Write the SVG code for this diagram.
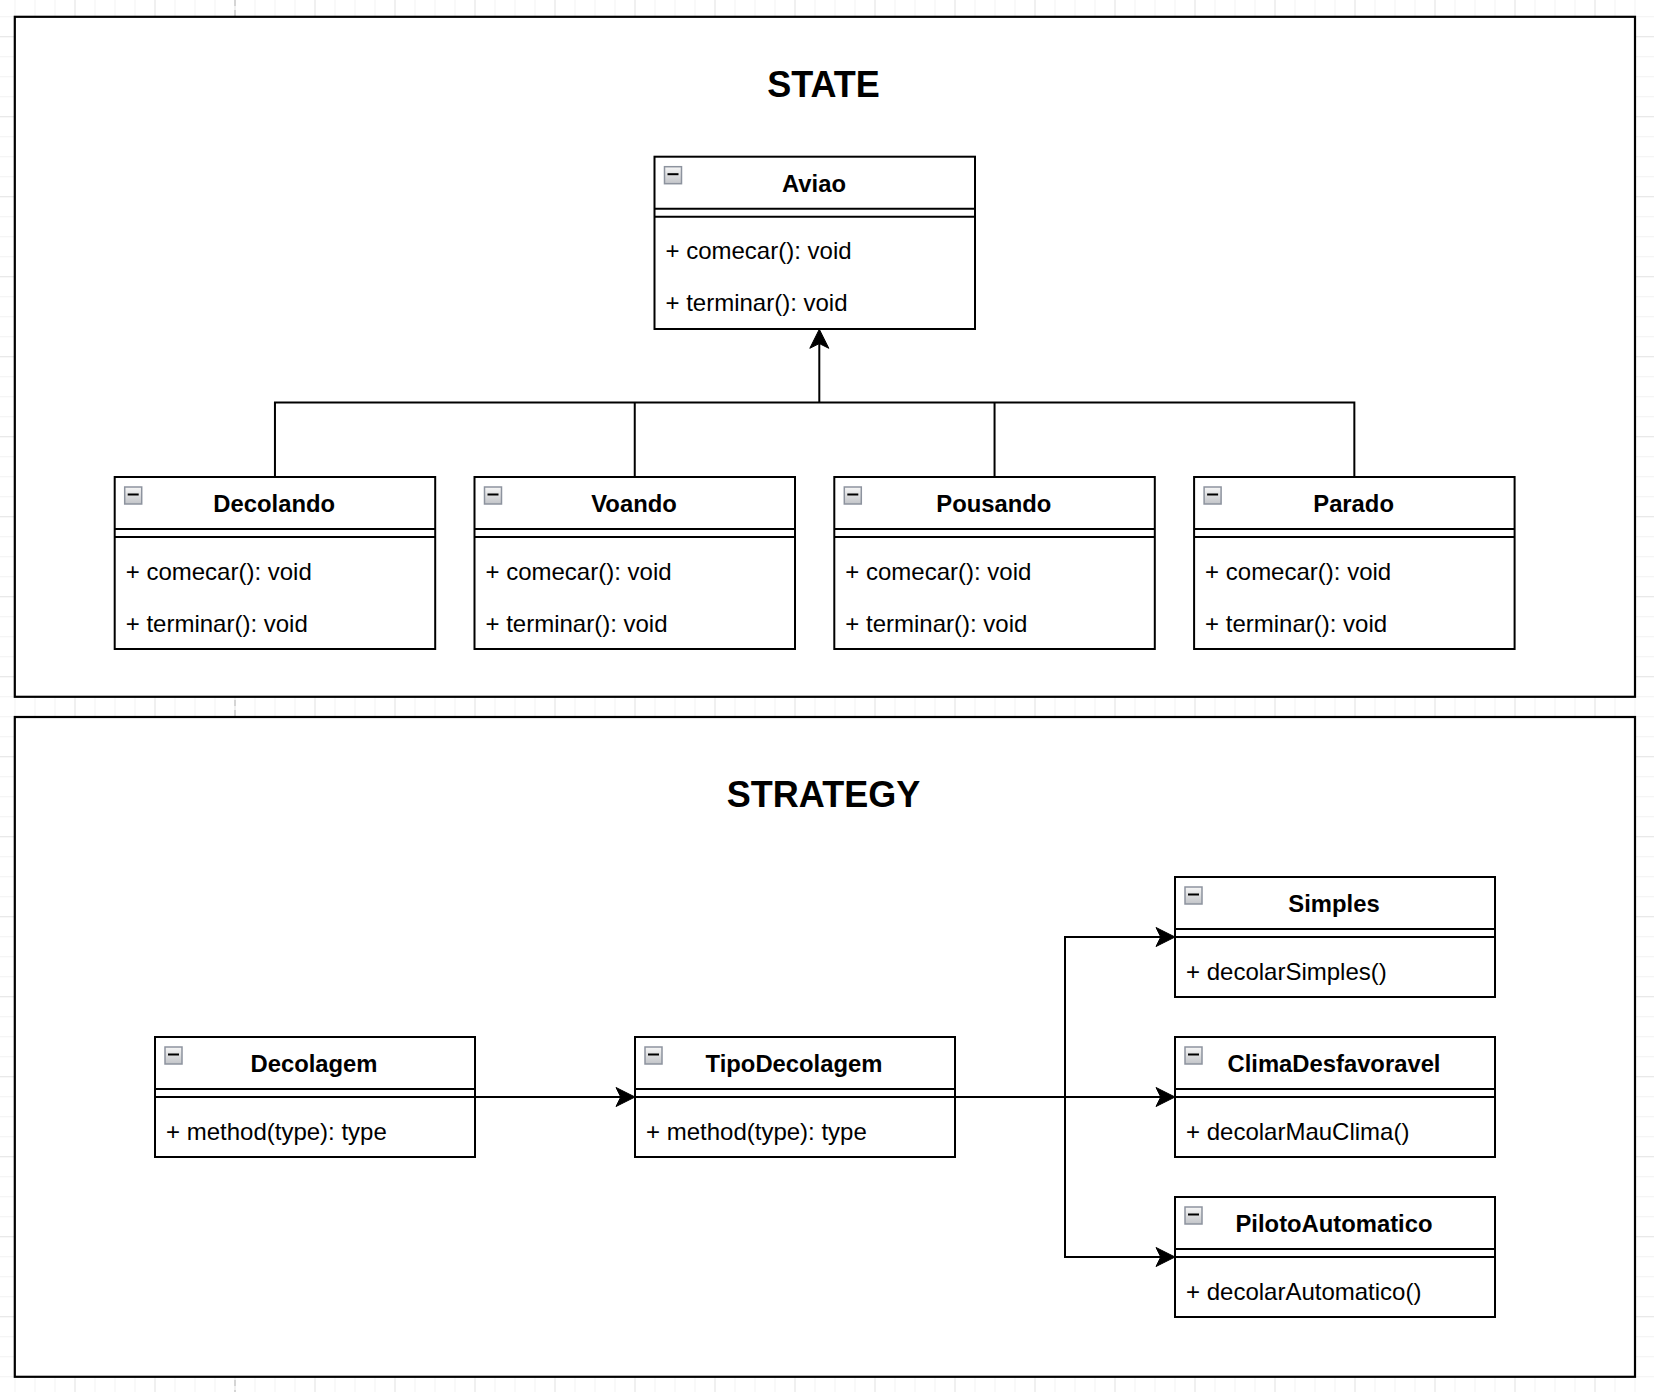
<svg xmlns="http://www.w3.org/2000/svg" xmlns:xlink="http://www.w3.org/1999/xlink" width="1654" height="1392" viewBox="0 0 1654 1392">
<style>
.frame{fill:#ffffff;stroke:#000000;stroke-width:2.2}
.box{fill:#ffffff;stroke:#000000;stroke-width:2}
.sep{stroke:#000000;stroke-width:2}
.title{font-family:"Liberation Sans",Arial,Helvetica,sans-serif;font-weight:bold;font-size:23.8px;text-anchor:middle;fill:#000}
.attr{font-family:"Liberation Sans",Arial,Helvetica,sans-serif;font-size:24px;fill:#000}
.big{font-family:"Liberation Sans",Arial,Helvetica,sans-serif;font-weight:bold;font-size:36px;text-anchor:middle;fill:#000}
.edge{fill:none;stroke:#000000;stroke-width:2;stroke-linejoin:miter}
</style>
<defs>
<pattern id="gridMinor" patternUnits="userSpaceOnUse" x="14.5" y="16.2" width="20" height="20">
<rect x="0" y="0" width="20" height="1" fill="#f2f2f2"/>
<rect x="0" y="0" width="1" height="20" fill="#f2f2f2"/>
</pattern>
<pattern id="gridMajor" patternUnits="userSpaceOnUse" x="74.5" y="36.2" width="80" height="80">
<rect x="0" y="0" width="80" height="1" fill="#e6e6e6"/>
<rect x="0" y="0" width="1" height="80" fill="#e6e6e6"/>
</pattern>
<linearGradient id="iconGrad" x1="0" y1="0" x2="0" y2="1">
<stop offset="0" stop-color="#f7f7f7"/>
<stop offset="1" stop-color="#c2c4c8"/>
</linearGradient>
<g id="minus">
<rect x="10" y="10" width="17" height="17" fill="url(#iconGrad)" stroke="#8d939e" stroke-width="1.5"/>
<rect x="13" y="16.5" width="11" height="2" fill="#000"/>
</g>
<marker id="arrow" markerUnits="userSpaceOnUse" markerWidth="40" markerHeight="40" refX="0" refY="0" orient="auto" overflow="visible">
<path d="M10,0 L-9,-9.5 L-4.25,0 L-9,9.5 Z" fill="#000" stroke="#000" stroke-width="1"/>
</marker>
</defs>

<g id="background">
<rect x="0" y="0" width="1654" height="1392" fill="#ffffff"/>
<rect x="0" y="0" width="1654" height="1392" fill="url(#gridMinor)"/>
<rect x="0" y="0" width="1654" height="1392" fill="url(#gridMajor)"/>
<line x1="235" y1="0" x2="235" y2="1392" stroke="#c4c4c4" stroke-width="1.2" stroke-dasharray="6 4"/>
</g>

<g id="state-frame">
<rect class="frame" x="14.8" y="16.8" width="1620.2" height="680"/>
<text class="big" x="823.5" y="97">STATE</text>
</g>

<g id="strategy-frame">
<rect class="frame" x="14.8" y="717" width="1620.2" height="659.8"/>
<text class="big" x="823.5" y="807">STRATEGY</text>
</g>

<g id="connectors">
<path class="edge" d="M274.95,477 V402.5 H1354.35 V477"/>
<path class="edge" d="M634.75,477 V402.5"/>
<path class="edge" d="M994.55,477 V402.5"/>
<path class="edge" d="M819.3,402.5 V339.3" marker-end="url(#arrow)"/>
<path class="edge" d="M475,1097 H625" marker-end="url(#arrow)"/>
<path class="edge" d="M955,1097 H1165" marker-end="url(#arrow)"/>
<path class="edge" d="M1065,1097 V937 H1165" marker-end="url(#arrow)"/>
<path class="edge" d="M1065,1097 V1257 H1165" marker-end="url(#arrow)"/>
</g>

<g id="aviao" transform="translate(654.5,156.7)">
<rect class="box" width="320.5" height="172.3"/>
<line class="sep" x1="0" y1="52" x2="320.5" y2="52"/>
<line class="sep" x1="0" y1="60" x2="320.5" y2="60"/>
<use xlink:href="#minus" href="#minus"/>
<text class="title" x="159.5" y="35">Aviao</text>
<text class="attr" x="11" y="102.5">+ comecar(): void</text>
<text class="attr" x="11" y="154.5">+ terminar(): void</text>
</g>

<g id="decolando" transform="translate(114.7,477)">
<rect class="box" width="320.5" height="172"/>
<line class="sep" x1="0" y1="52" x2="320.5" y2="52"/>
<line class="sep" x1="0" y1="60" x2="320.5" y2="60"/>
<use xlink:href="#minus" href="#minus"/>
<text class="title" x="159.5" y="35">Decolando</text>
<text class="attr" x="11" y="102.5">+ comecar(): void</text>
<text class="attr" x="11" y="154.5">+ terminar(): void</text>
</g>

<g id="voando" transform="translate(474.5,477)">
<rect class="box" width="320.5" height="172"/>
<line class="sep" x1="0" y1="52" x2="320.5" y2="52"/>
<line class="sep" x1="0" y1="60" x2="320.5" y2="60"/>
<use xlink:href="#minus" href="#minus"/>
<text class="title" x="159.5" y="35">Voando</text>
<text class="attr" x="11" y="102.5">+ comecar(): void</text>
<text class="attr" x="11" y="154.5">+ terminar(): void</text>
</g>

<g id="pousando" transform="translate(834.3,477)">
<rect class="box" width="320.5" height="172"/>
<line class="sep" x1="0" y1="52" x2="320.5" y2="52"/>
<line class="sep" x1="0" y1="60" x2="320.5" y2="60"/>
<use xlink:href="#minus" href="#minus"/>
<text class="title" x="159.5" y="35">Pousando</text>
<text class="attr" x="11" y="102.5">+ comecar(): void</text>
<text class="attr" x="11" y="154.5">+ terminar(): void</text>
</g>

<g id="parado" transform="translate(1194.1,477)">
<rect class="box" width="320.5" height="172"/>
<line class="sep" x1="0" y1="52" x2="320.5" y2="52"/>
<line class="sep" x1="0" y1="60" x2="320.5" y2="60"/>
<use xlink:href="#minus" href="#minus"/>
<text class="title" x="159.5" y="35">Parado</text>
<text class="attr" x="11" y="102.5">+ comecar(): void</text>
<text class="attr" x="11" y="154.5">+ terminar(): void</text>
</g>

<g id="decolagem" transform="translate(155,1037)">
<rect class="box" width="320" height="120"/>
<line class="sep" x1="0" y1="52" x2="320" y2="52"/>
<line class="sep" x1="0" y1="60" x2="320" y2="60"/>
<use xlink:href="#minus" href="#minus"/>
<text class="title" x="159" y="35">Decolagem</text>
<text class="attr" x="11" y="102.5">+ method(type): type</text>
</g>

<g id="tipodecolagem" transform="translate(635,1037)">
<rect class="box" width="320" height="120"/>
<line class="sep" x1="0" y1="52" x2="320" y2="52"/>
<line class="sep" x1="0" y1="60" x2="320" y2="60"/>
<use xlink:href="#minus" href="#minus"/>
<text class="title" x="159" y="35">TipoDecolagem</text>
<text class="attr" x="11" y="102.5">+ method(type): type</text>
</g>

<g id="simples" transform="translate(1175,877)">
<rect class="box" width="320" height="120"/>
<line class="sep" x1="0" y1="52" x2="320" y2="52"/>
<line class="sep" x1="0" y1="60" x2="320" y2="60"/>
<use xlink:href="#minus" href="#minus"/>
<text class="title" x="159" y="35">Simples</text>
<text class="attr" x="11" y="102.5">+ decolarSimples()</text>
</g>

<g id="climadesfavoravel" transform="translate(1175,1037)">
<rect class="box" width="320" height="120"/>
<line class="sep" x1="0" y1="52" x2="320" y2="52"/>
<line class="sep" x1="0" y1="60" x2="320" y2="60"/>
<use xlink:href="#minus" href="#minus"/>
<text class="title" x="159" y="35">ClimaDesfavoravel</text>
<text class="attr" x="11" y="102.5">+ decolarMauClima()</text>
</g>

<g id="pilotoautomatico" transform="translate(1175,1197)">
<rect class="box" width="320" height="120"/>
<line class="sep" x1="0" y1="52" x2="320" y2="52"/>
<line class="sep" x1="0" y1="60" x2="320" y2="60"/>
<use xlink:href="#minus" href="#minus"/>
<text class="title" x="159" y="35">PilotoAutomatico</text>
<text class="attr" x="11" y="102.5">+ decolarAutomatico()</text>
</g>
</svg>
